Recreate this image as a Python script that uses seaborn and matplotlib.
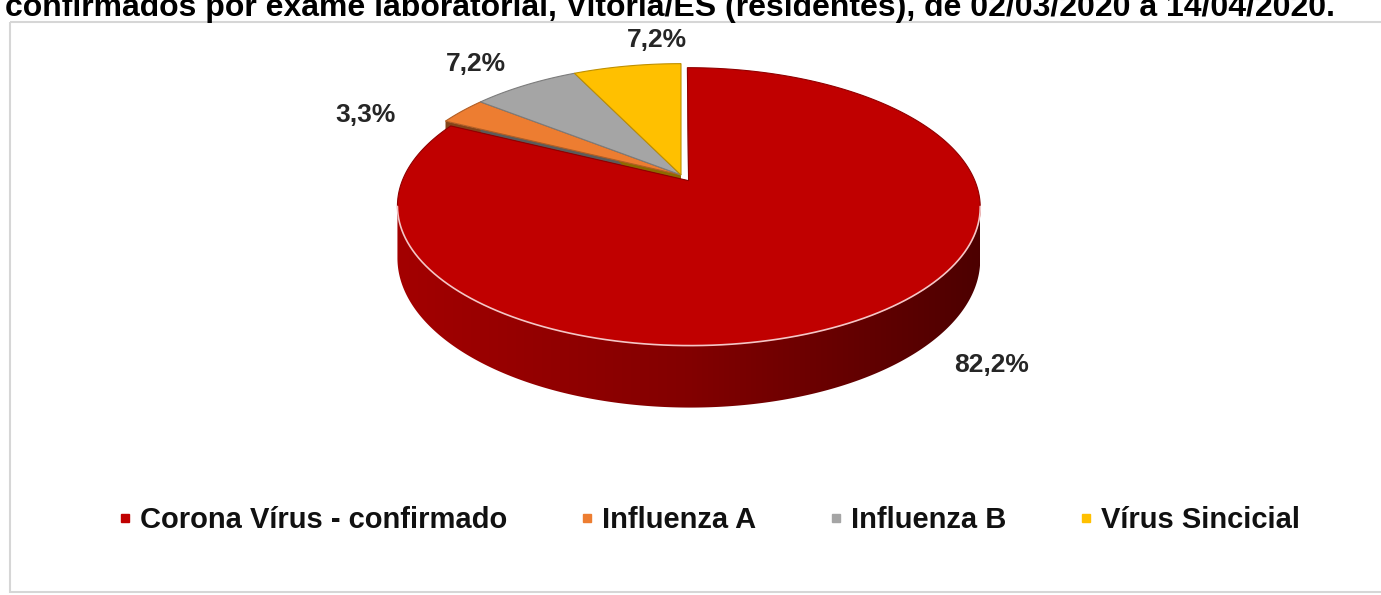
import numpy as np
import matplotlib
matplotlib.use('Agg')
import matplotlib.pyplot as plt
from matplotlib.patches import Polygon, Rectangle
from matplotlib.lines import Line2D
from matplotlib.colors import to_rgb, LinearSegmentedColormap
import seaborn as sns

# Data
categories = ['Corona Vírus - confirmado', 'Influenza A', 'Influenza B', 'Vírus Sincicial']
shares = [82.2, 3.3, 7.2, 7.2]
labels = ['82,2%', '3,3%', '7,2%', '7,2%']
colors = ['#C00000', '#ED7D31', '#A5A5A5', '#FFC000']
title = 'confirmados por exame laboratorial, Vitória/ES (residentes), de 02/03/2020 a 14/04/2020.'

# Layout (pixels)
W, H = 1381, 595
CX, CY = 681, 175
RX, RY, B = 284, 132, 0.1855
DEPTH = 50
explode = [0.05, 0, 0, 0]
label_r = 1.32
label_nudge = [(48, -6), (-35, 22), (-7, 3), (44, 2)]
# angles where the rim turns out of sight (perspective silhouette)
SIL = np.degrees(np.arcsin(B))

sns.set_theme(style='white')
plt.rcParams['font.family'] = ['Liberation Sans', 'DejaVu Sans']


def project(u, v, drop=0.0):
    w = 1 + B * v
    return CX + RX * u / w, CY - RY * v / w + drop / w


def shade(c, f):
    r, g, b = to_rgb(c)
    return (r * f, g * f, b * f)


def rim(ex, ey, tt, drop=0.0):
    return [project(ex + np.cos(t), ey + np.sin(t), drop) for t in np.radians(tt)]


fig = plt.figure(figsize=(W / 100, H / 100), dpi=100)
ax = fig.add_axes([0, 0, 1, 1])

# frame and (cut-off) title as in the source image
ax.add_patch(Rectangle((10, 22), W + 20, 570, fill=False, edgecolor='#d6d6d6', lw=1.5))
ax.text(5, 16, title, fontsize=23, fontweight='bold', color='black', va='baseline', ha='left')

total = sum(shares)
bounds = 90 - 360 * np.concatenate([[0], np.cumsum(shares)]) / total
geo = []
for i in range(len(shares)):
    t_hi, t_lo = bounds[i], bounds[i + 1]
    mid = np.radians((t_hi + t_lo) / 2)
    geo.append((t_lo, t_hi, mid, explode[i] * np.cos(mid), explode[i] * np.sin(mid)))


def draw_sides(i):
    t_lo, t_hi, mid, ex, ey = geo[i]
    col = colors[i]
    for t in (t_lo, t_hi):
        a = project(ex, ey)
        r = rim(ex, ey, [t])[0]
        rd = rim(ex, ey, [t], DEPTH)[0]
        ad = project(ex, ey, DEPTH)
        ax.add_patch(Polygon([a, r, rd, ad], closed=True, facecolor=shade(col, 0.55),
                             edgecolor='none'))
    # outer wall, visible front part only, shaded left to right
    for k in (-360, 0, 360):
        lo, hi = max(t_lo, 180 + SIL + k), min(t_hi, 360 - SIL + k)
        if hi <= lo:
            continue
        tt = np.linspace(lo, hi, 300)
        wall = rim(ex, ey, tt) + rim(ex, ey, tt[::-1], DEPTH)
        poly = Polygon(wall, closed=True, facecolor='none', edgecolor='none')
        ax.add_patch(poly)
        xs = np.array(wall)[:, 0]
        ys = np.array(wall)[:, 1]
        cmap = LinearSegmentedColormap.from_list(
            'wall', [shade(col, 0.85), shade(col, 0.68), shade(col, 0.4)])
        grad = np.linspace(0, 1, 256)[None, :]
        im = ax.imshow(grad, cmap=cmap, aspect='auto', interpolation='bilinear',
                       extent=(xs.min(), xs.max(), ys.max(), ys.min()))
        im.set_clip_path(poly)


def draw_top(i):
    t_lo, t_hi, mid, ex, ey = geo[i]
    col = colors[i]
    pts = [project(ex, ey)] + rim(ex, ey, np.linspace(t_lo, t_hi, 300))
    ax.add_patch(Polygon(pts, closed=True, facecolor=col, edgecolor=shade(col, 0.75), lw=0.8))
    for k in (-360, 0):
        lo, hi = max(t_lo, 180 + SIL + k), min(t_hi, 360 - SIL + k)
        if hi > lo:
            xy = np.array(rim(ex, ey, np.linspace(lo, hi, 200)))
            ax.plot(xy[:, 0], xy[:, 1], color='#f5c6c6', lw=1.2)
    lx, ly = project(ex + label_r * np.cos(mid), ey + label_r * np.sin(mid))
    ax.text(lx + label_nudge[i][0], ly + label_nudge[i][1], labels[i], fontsize=19,
            fontweight='bold', color='#262626', ha='center', va='center')


# small slices sit behind, the big one is drawn last
small = list(range(1, len(shares)))
for i in small:
    draw_sides(i)
for i in small:
    draw_top(i)
draw_sides(0)
draw_top(0)

ax.set_xlim(0, W)
ax.set_ylim(H, 0)
ax.axis('off')

handles = [Line2D([], [], marker='s', ls='', color=c, markersize=6) for c in colors]
leg = fig.legend(handles, categories, loc='center', bbox_to_anchor=(708 / W, 1 - 520 / H),
                 ncol=4, frameon=False, prop=dict(weight='bold', size=21), handlelength=0.6,
                 handletextpad=0.2, columnspacing=2.45)
for txt in leg.get_texts():
    txt.set_color('#111111')

fig.savefig('out.png', dpi=100)
